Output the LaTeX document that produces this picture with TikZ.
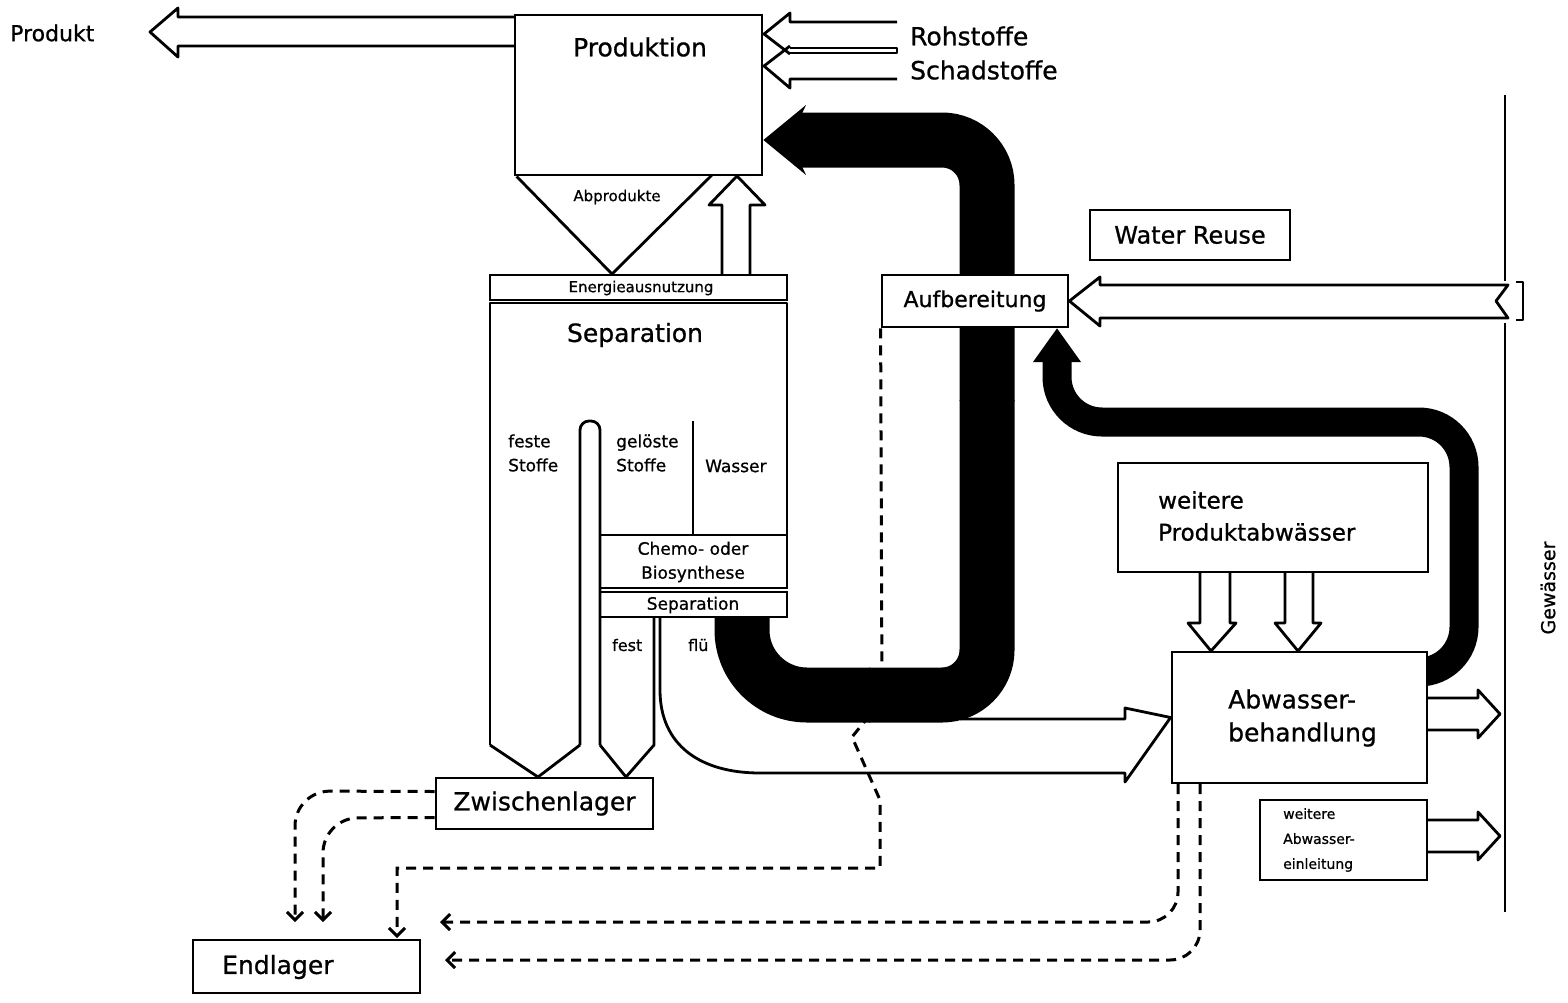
\documentclass[tikz,border=0pt]{standalone}
\usepackage{fontspec}
\setmainfont{DejaVu Sans}[FakeBold=0.8]
\usetikzlibrary{arrows.meta}
\pgfdeclarelayer{bg}
\pgfsetlayers{bg,main}
\begin{document}
\begin{tikzpicture}[x=1pt,y=-1pt,
  ln/.style={line width=2.8pt,line join=round},
  boxs/.style={draw,line width=2.8pt,fill=white,inner sep=0pt},
  dsh/.style={line width=3pt,dash pattern=on 10pt off 7pt},
  bigt/.style={font=\fontsize{25}{33}\selectfont,inner sep=0pt,align=left},
  smlt/.style={font=\fontsize{17}{24}\selectfont,inner sep=0pt,align=left},
  barb/.style={-{Straight Barb[length=8pt,width=16pt]}}
]
\useasboundingbox (0,0) rectangle (1568,1002);

% ---------- boxes ----------
\node[boxs,minimum width=247pt,minimum height=160pt] (prod) at (638.5,95) {};
\node[bigt] (prodt) at (640,47) {Produktion};
\node[boxs,minimum width=297pt,minimum height=25pt] (energ) at (638.5,287.5) {};
\node[font=\fontsize{15}{18}\selectfont,inner sep=0pt] (energt) at (641,288) {Energieausnutzung};
\node[boxs,minimum width=187pt,minimum height=53pt] (chemo) at (693.5,561.5) {};
\node[smlt,align=center] (chemot) at (693,562) {Chemo- oder\\Biosynthese};
\node[boxs,minimum width=187pt,minimum height=25pt] (sep2) at (693.5,604.5) {};
\node[smlt] (sep2t) at (693,605) {Separation};
\node[boxs,minimum width=186pt,minimum height=52pt,font=\fontsize{22}{30}\selectfont] (auf) at (975,301) {Aufbereitung};
\node[boxs,minimum width=200pt,minimum height=50pt,font=\fontsize{24}{30}\selectfont] (wr) at (1190,235) {Water Reuse};
\node[boxs,minimum width=310pt,minimum height=109pt] (wp) at (1273,517.5) {};
\node[font=\fontsize{23}{32}\selectfont,inner sep=0pt,align=left,anchor=west] (wpt) at (1158,516) {weitere\\Produktabwässer};
\node[boxs,minimum width=255pt,minimum height=131pt] (abw) at (1299.5,717.5) {};
\node[font=\fontsize{25}{33}\selectfont,inner sep=0pt,align=left,anchor=west] (abwt) at (1228,718) {Abwasser-\\behandlung};
\node[boxs,minimum width=167pt,minimum height=80pt] (wa) at (1343.5,840) {};
\node[font=\fontsize{14}{25}\selectfont,inner sep=0pt,align=left,anchor=west] (wat) at (1283,840) {weitere\\Abwasser-\\einleitung};
\node[boxs,minimum width=217pt,minimum height=51pt,font=\fontsize{25}{30}\selectfont] (zw) at (544.5,803.5) {Zwischenlager};
\node[boxs,minimum width=227pt,minimum height=53pt] (el) at (306.5,966.5) {};
\node[bigt,anchor=west] (elt) at (222,967) {Endlager};

% ---------- labels ----------
\node[font=\fontsize{22}{26}\selectfont,inner sep=0pt,anchor=west] (produkt) at (10,33) {Produkt};
\node[bigt,anchor=west] (roh) at (910,36) {Rohstoffe};
\node[bigt,anchor=west] (schad) at (910,70) {Schadstoffe};
\node[font=\fontsize{15}{18}\selectfont,inner sep=0pt] (abp) at (617,197) {Abprodukte};
\node[bigt] (sept) at (635,335) {Separation};
\node[smlt,anchor=west] (feste) at (508,453) {feste\\Stoffe};
\node[smlt,anchor=west] (geloest) at (616,453) {gelöste\\Stoffe};
\node[smlt,anchor=west] (wasser) at (705,466) {Wasser};
\node[font=\fontsize{16}{18}\selectfont,inner sep=0pt,anchor=west] (fest) at (612,645) {fest};
\node[font=\fontsize{16}{18}\selectfont,inner sep=0pt,anchor=west] (flue) at (688,645) {flü};
\node[font=\fontsize{19}{22}\selectfont,inner sep=0pt,rotate=90] (gew) at (1548,588) {Gewässer};

% ---------- background layer: dashed lines and black bands ----------
\begin{pgfonlayer}{bg}
\fill[white] (0,0) rectangle (1568,1002);
\draw[dsh,barb,rounded corners=35] ([yshift=12pt]zw.west) -- (295,791) -- (295,922);
\draw[dsh,barb,rounded corners=35] ([yshift=-14pt]zw.west) -- (323,818) -- (323,922);
\draw[dsh,barb] (auf.south west) -- (882,700) -- (852,737) -- (880,800) -- (880,868) -- (397,868) -- (397,938);
\draw[dsh,barb,rounded corners=30] (1178,784) -- (1178,922) -- (440,922);
\draw[dsh,barb,rounded corners=30] (1200,784) -- (1200,960) -- (445,960);
% white stream to Abwasserbehandlung
\draw[ln] (960,719) -- (1125,719) -- (1125,708) -- (abw.west) -- (1125,782) -- (1125,773) -- (760,773) .. controls (700,773) and (660,745) .. (660,690) -- (660,617);
% black band 1
\draw[line width=55pt,rounded corners=65] (742,617) -- (742,695) -- (870,695);
\draw[line width=55pt,rounded corners=45] (869,695) -- (987,695) -- (987,400);
\draw[line width=55pt,rounded corners=45] (987,401) -- (987,140) -- (800,140);
\fill (prod.east |- 0,140) -- (806,105) -- (800,118) -- (800,162) -- (806,175) -- cycle;
% black band 2
\draw[line width=29pt,rounded corners=45] (1380,672) -- (1464,672) -- (1464,422) -- (1057,422) -- (1057,356);
\fill (auf.south -| 1057,0) -- (1081,362) -- (1033,362) -- cycle;
\end{pgfonlayer}

% ---------- hollow arrows and lines ----------
\draw[ln] (515,17) -- (178,17) -- (178,8) -- (150,32) -- (178,57) -- (178,46) -- (515,46);
\draw[ln] (897,22) -- (790,22) -- (790,13) -- (764,34) -- (790,54);
\draw[ln] (790,46) -- (764,66) -- (790,88) -- (790,79) -- (897,79);
\draw[ln] (790,48) -- (897,48) -- (897,53) -- (790,53);
% funnel
\draw[ln] ([xshift=3pt]prod.south west) -- (612,274) -- (712,175);
% up arrow
\draw[ln] (722,275) -- (722,205) -- (709,205) -- (737,176) -- (765,205) -- (750,205) -- (750,275);
% separation outline
\draw[ln] (490,745) -- (490,303) -- (787,303) -- (787,535);
\draw[ln,rounded corners=9] (580,745) -- (580,421) -- (600,421) -- (600,745);
\draw[ln] (693,421) -- (693,535);
\draw[ln] (654,617) -- (654,745) -- (626,777);
\draw[ln] (490,745) -- (538,777) -- (580,745);
\draw[ln] (600,745) -- (626,777);
% water intake from Gewaesser
\draw[ln] (1508,285) -- (1100,285) -- (1100,277) -- (auf.east) -- (1100,326) -- (1100,318) -- (1508,318) -- (1496,301) -- cycle;
\draw[ln] (1516,282) -- (1523,282) -- (1523,320) -- (1516,320);
\draw[ln] (1505,95) -- (1505,281);
\draw[ln] (1505,323) -- (1505,912);
% outflows
\draw[ln] (1427,698) -- (1478,698) -- (1478,690) -- (1500,714) -- (1478,738) -- (1478,730) -- (1427,730);
\draw[ln] (1427,820) -- (1478,820) -- (1478,812) -- (1500,836) -- (1478,860) -- (1478,852) -- (1427,852);
% inflows from weitere Produktabwaesser
\draw[ln] (1200,572) -- (1200,623) -- (1188,623) -- (1211,651) -- (1236,623) -- (1230,623) -- (1230,572);
\draw[ln] (1285,572) -- (1285,623) -- (1275,623) -- (1298,651) -- (1321,623) -- (1313,623) -- (1313,572);
\end{tikzpicture}
\end{document}
